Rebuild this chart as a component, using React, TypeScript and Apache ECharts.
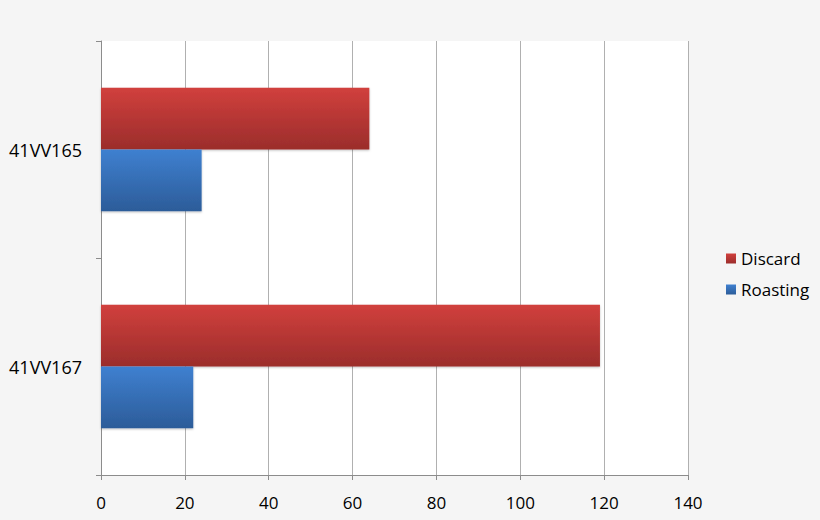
import React, { useEffect, useRef } from "react";
import * as echarts from "echarts";

const categories = ["41VV167", "41VV165"];
const discardValues = [119, 64];
const roastingValues = [22, 24];
const xTicks = { min: 0, max: 140, interval: 20 };

export default function App() {
  const ref = useRef<HTMLDivElement>(null);
  useEffect(() => {
    if (!ref.current) return;
    const chart = echarts.init(ref.current, undefined, { renderer: "svg" });
    const font = "'Open Sans', 'Noto Sans', sans-serif";
    chart.setOption({
      animation: false,
      backgroundColor: "#f5f5f5",
      textStyle: { fontFamily: font },
      grid: {
        left: 101,
        top: 41,
        right: 132,
        bottom: 45,
        show: true,
        backgroundColor: "#ffffff",
        borderWidth: 0,
      },
      legend: {
        orient: "vertical",
        left: 721,
        top: 245,
        itemWidth: 10,
        itemHeight: 10,
        itemGap: 14,
        icon: "rect",
        data: ["Discard", "Roasting"],
        textStyle: { fontSize: 17, color: "#000", fontFamily: font },
      },
      xAxis: {
        type: "value",
        min: xTicks.min,
        max: xTicks.max,
        interval: xTicks.interval,
        axisLine: { show: true, lineStyle: { color: "#8c8c8c", width: 1 } },
        axisTick: { show: true, length: 5, lineStyle: { color: "#8c8c8c" } },
        splitLine: { show: true, lineStyle: { color: "#b0b0b0", width: 1 } },
        axisLabel: { fontSize: 17, color: "#000", margin: 19, fontFamily: font },
      },
      yAxis: {
        type: "category",
        data: categories,
        axisLine: { show: true, lineStyle: { color: "#8c8c8c", width: 1 } },
        axisTick: { show: true, length: 5, lineStyle: { color: "#8c8c8c" } },
        axisLabel: { fontSize: 18, color: "#000", margin: 19, fontFamily: font },
        splitLine: { show: false },
      },
      series: [
        {
          name: "Discard",
          type: "bar",
          data: discardValues,
          barGap: "0%",
          barCategoryGap: "43%",
          itemStyle: {
            color: new echarts.graphic.LinearGradient(0, 0, 0, 1, [
              { offset: 0, color: "#d1403d" },
              { offset: 1, color: "#9b2d2b" },
            ]),
            shadowBlur: 2,
            shadowColor: "rgba(0,0,0,0.25)",
            shadowOffsetY: 1,
          },
        },
        {
          name: "Roasting",
          type: "bar",
          data: roastingValues,
          barGap: "0%",
          barCategoryGap: "43%",
          itemStyle: {
            color: new echarts.graphic.LinearGradient(0, 0, 0, 1, [
              { offset: 0, color: "#3f80d0" },
              { offset: 1, color: "#2c5c99" },
            ]),
            shadowBlur: 2,
            shadowColor: "rgba(0,0,0,0.25)",
            shadowOffsetY: 1,
          },
        },
      ],
    });
    return () => chart.dispose();
  }, []);
  return (
    <div
      ref={ref}
      style={{ position: "fixed", left: 0, top: 0, width: 820, height: 520 }}
    />
  );
}
